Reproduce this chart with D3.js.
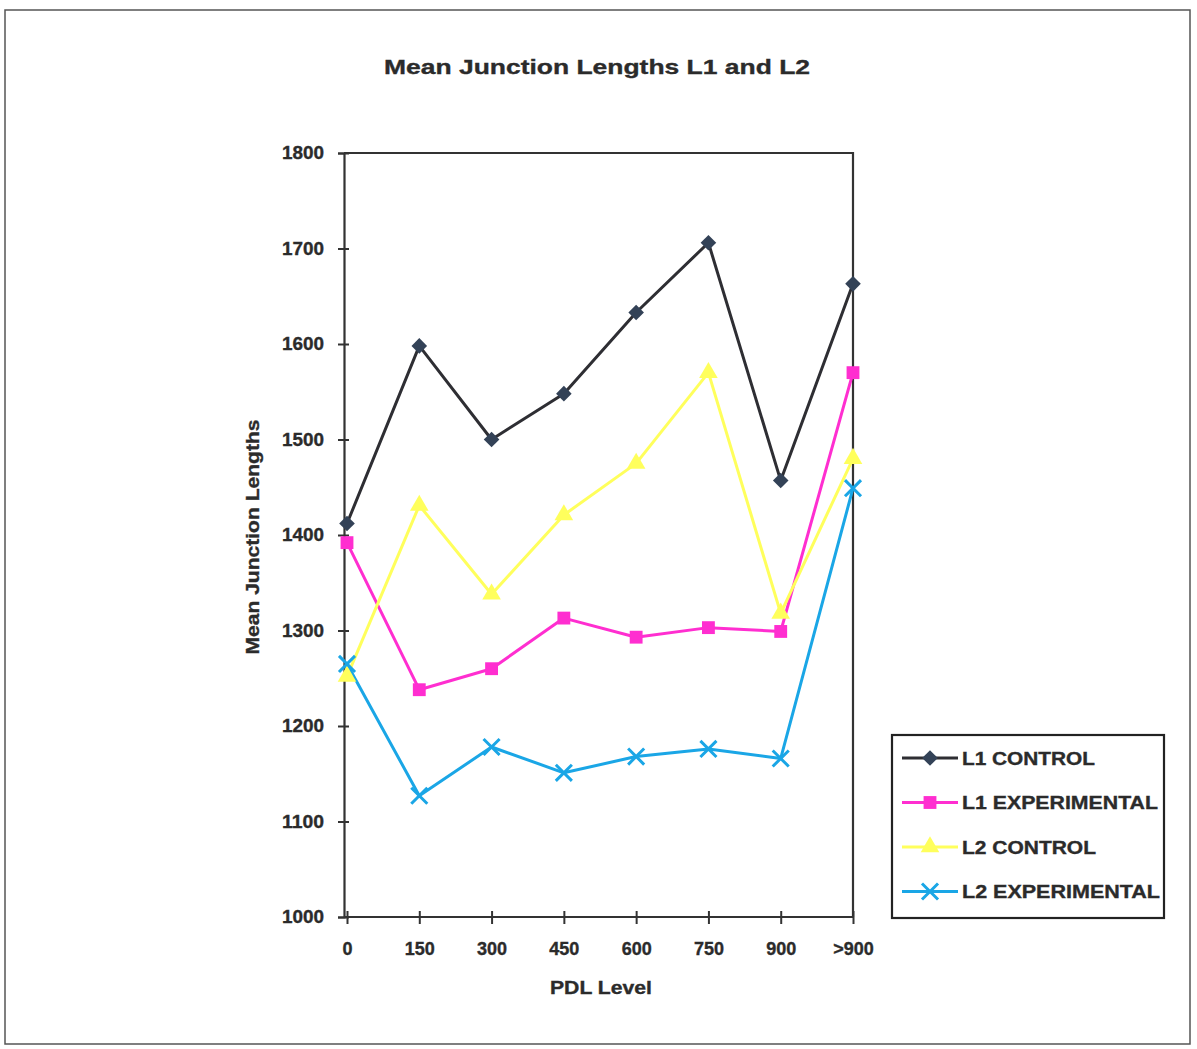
<!DOCTYPE html>
<html><head><meta charset="utf-8">
<script src="https://cdn.jsdelivr.net/npm/d3@7"></script>
<style>body{margin:0;background:#fff}svg{display:block}text{font-family:"Liberation Sans",Arial,sans-serif;font-weight:bold;fill:#2b2b2b;stroke:#2b2b2b;stroke-width:0.35px}</style>
</head><body><svg id="c" width="1197" height="1049"></svg>
<script>
const categories = ["0","150","300","450","600","750","900",">900"];
const yTicks = [1000,1100,1200,1300,1400,1500,1600,1700,1800];
const l1Control = [1412,1598,1500,1548,1633,1706,1457,1663];
const l1Experimental = [1392,1238,1260,1313,1293,1303,1299,1570];
const l2Control = [1252,1431,1338,1421,1475,1570,1318,1480];
const l2Experimental = [1265,1127,1178,1151,1168,1176,1166,1449];
const seriesNames = ["L1 CONTROL","L1 EXPERIMENTAL","L2 CONTROL","L2 EXPERIMENTAL"];
const legendWidths = [133,196,134,198];

const series = [
  {name: seriesNames[0], values: l1Control, line:"#2e2e33", fill:"#334257", sym:d3.symbolDiamond2, size:155, stroke:false},
  {name: seriesNames[1], values: l1Experimental, line:"#ff2ed0", fill:"#ff2ed0", sym:d3.symbolSquare, size:165, stroke:false},
  {name: seriesNames[2], values: l2Control, line:"#ffff5c", fill:"#ffff5c", sym:d3.symbolTriangle, size:150, stroke:false},
  {name: seriesNames[3], values: l2Experimental, line:"#1aa6e6", fill:"none", sym:d3.symbolX, size:170, stroke:true}
];

const svg = d3.select("#c");
// outer frame
svg.append("rect").attr("x",5).attr("y",10).attr("width",1185).attr("height",1034)
  .attr("fill","none").attr("stroke","#555").attr("stroke-width",1.5);

const pLeft = 344, pRight = 853, pTop = 153, pBottom = 917;
const x = d3.scalePoint().domain(categories).range([pLeft+3, pRight]).padding(0);
const y = d3.scaleLinear().domain([1000,1800]).range([pBottom, pTop]);

// plot box (top and right borders)
svg.append("path").attr("d",`M${pLeft},${pTop}H${pRight}V${pBottom}`).attr("fill","none")
  .attr("stroke","#333").attr("stroke-width",2.2);

// y axis
const ya = svg.append("g").attr("transform",`translate(${pLeft},0)`)
  .call(d3.axisLeft(y).tickValues(yTicks).tickFormat(d3.format("d")).tickSize(6).tickPadding(14));
ya.select(".domain").attr("stroke","#333").attr("stroke-width",2.2);
ya.selectAll(".tick line").attr("stroke","#333").attr("stroke-width",2).attr("x1",5).attr("x2",-6);
ya.selectAll(".tick text").style("font-size","18px").attr("fill","#2b2b2b")
  .attr("textLength",42).attr("lengthAdjust","spacingAndGlyphs");

// x axis
const xa = svg.append("g").attr("transform",`translate(0,${pBottom})`)
  .call(d3.axisBottom(x).tickSize(7).tickPadding(18).tickSizeOuter(0));
xa.select(".domain").attr("stroke","#333").attr("stroke-width",2.2).attr("d",`M${pLeft},0H${pRight}`);
xa.selectAll(".tick line").attr("stroke","#333").attr("stroke-width",2).attr("y1",-6).attr("y2",7);
xa.selectAll(".tick text").style("font-size","18px").attr("fill","#2b2b2b");

// title & axis titles
svg.append("text").attr("x",597).attr("y",74).attr("text-anchor","middle").style("font-size","21px")
  .attr("textLength",426).attr("lengthAdjust","spacingAndGlyphs").text("Mean Junction Lengths L1 and L2");
svg.append("text").attr("x",601).attr("y",994).attr("text-anchor","middle").style("font-size","18px")
  .attr("textLength",102).attr("lengthAdjust","spacingAndGlyphs").text("PDL Level");
svg.append("text").attr("transform","translate(259,537) rotate(-90)").attr("text-anchor","middle").style("font-size","18px")
  .attr("textLength",235).attr("lengthAdjust","spacingAndGlyphs").text("Mean Junction Lengths");

// series
const line = d3.line().x((d,i)=>x(categories[i])).y(d=>y(d));
series.forEach(s=>{
  svg.append("path").datum(s.values).attr("d",line).attr("fill","none")
    .attr("stroke",s.line).attr("stroke-width",3).attr("stroke-linejoin","round");
});
series.forEach(s=>{
  svg.append("g").selectAll("path").data(s.values).join("path")
    .attr("transform",(d,i)=>`translate(${x(categories[i])},${y(d)})`)
    .attr("d",d3.symbol().type(s.sym).size(s.size))
    .attr("fill",s.stroke?"none":s.fill)
    .attr("stroke",s.stroke?s.line:"none").attr("stroke-width",s.stroke?3:0);
});

// legend
const lg = svg.append("g");
lg.append("rect").attr("x",892).attr("y",735).attr("width",272).attr("height",183)
  .attr("fill","#fff").attr("stroke","#222").attr("stroke-width",2.2);
series.forEach((s,i)=>{
  const yy = 758 + i*44.5;
  lg.append("line").attr("x1",902).attr("x2",958).attr("y1",yy).attr("y2",yy)
    .attr("stroke",s.line).attr("stroke-width",3);
  lg.append("path").attr("transform",`translate(930,${yy})`)
    .attr("d",d3.symbol().type(s.sym).size(s.size))
    .attr("fill",s.stroke?"none":s.fill)
    .attr("stroke",s.stroke?s.line:"none").attr("stroke-width",s.stroke?3:0);
  lg.append("text").attr("x",962).attr("y",yy+6.5).style("font-size","18px")
    .attr("textLength",legendWidths[i]).attr("lengthAdjust","spacingAndGlyphs").text(s.name);
});
</script></body></html>
